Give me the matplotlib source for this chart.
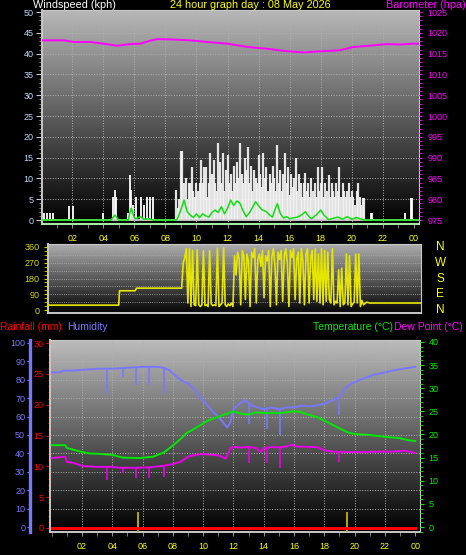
import numpy as np
import matplotlib
matplotlib.use("Agg")
import matplotlib.pyplot as plt
from matplotlib.ticker import MultipleLocator, FixedLocator
import matplotlib.transforms as mtransforms

plt.rcParams["font.family"] = ["Liberation Sans", "DejaVu Sans"]

W, H = 466, 555          # output size in pixels

# ─── barometer (hpa) ──────────────────────────────────────────────────────────
baro_hours = [0.1, 1.5, 2.1, 3.2, 4.2, 4.9, 5.7, 6.4, 7.0, 7.5, 8.5, 9.6, 10.7,
              12.0, 13.3, 14.5, 15.8, 16.9, 18.1, 19.2, 20.1, 21.4, 22.2, 23.1,
              23.9, 24.3]
baro_hpa = [1018.2, 1018.2, 1017.8, 1017.8, 1017.3, 1016.9, 1017.3, 1017.4,
            1018.1, 1018.5, 1018.4, 1018.2, 1017.8, 1017.4, 1016.6, 1016.2,
            1015.6, 1015.3, 1015.6, 1015.8, 1016.6, 1017.0, 1017.3, 1017.2,
            1017.4, 1017.4]

# ─── wind gusts (kph) ─────────────────────────────────────────────────────────
quiet_gust_hours = [0.2, 0.4, 0.6, 0.75, 1.8, 2.05, 3.98, 4.6, 4.75, 4.85, 5.6,
                    5.7, 5.8, 5.9, 6.1, 6.4, 6.6, 6.8, 7.0, 7.2, 21.2, 21.3,
                    23.4, 23.8, 23.9]
quiet_gust_kph = [1.8, 1.8, 1.8, 1.8, 3.4, 3.4, 1.8, 5.5, 7.2, 5.5, 1.8, 10.9,
                  7.2, 3.5, 5.5, 5.5, 3.6, 5.5, 5.5, 5.5, 1.8, 1.8, 1.8, 5.3, 5.3]
busy_start = 8.7          # 6-minute samples from here on
busy_gust_kph = [
    7.2, 3, 5, 16.5, 16.5, 9, 10, 5, 9, 9, 12.8, 7, 5.5, 9, 7, 9, 14.5, 9, 12.8,
    12.8, 5.5, 9, 16, 11, 14.5, 9, 7, 18.5, 14, 9, 16, 7, 12, 15.6, 9, 11, 7, 13,
    9, 14, 10, 18.5, 11, 9, 15, 12, 17.6, 9, 13, 7, 12, 10, 9, 15.6, 11, 8, 16,
    10, 12.8, 7, 11, 9, 13, 10, 7, 18, 9, 12, 7, 11, 16, 9, 12.8, 6, 11, 8, 10,
    15, 7, 11, 9, 5.5, 9, 11.3, 7, 9, 5.5, 10, 7, 9, 5.5, 12.8, 7, 9, 12.8, 5.5,
    9, 7, 10.9, 5.5, 9, 7, 5.5, 9, 7, 12.8, 5.5, 9, 7, 5.5, 7, 9, 5.5, 7, 5.5,
    3.6, 7, 9, 5.5, 3.6, 5.3, 5.3]

# ─── average wind (kph) ───────────────────────────────────────────────────────
avg_hours = [0.06, 4.5, 4.75, 5.0, 5.6, 5.8, 6.0, 6.1, 6.4, 6.6, 7.0, 7.2, 8.7,
             8.8, 9.0, 9.2, 9.4, 9.6, 9.8, 10.0, 10.2, 10.4, 10.6, 10.8, 11.0,
             11.2, 11.4, 11.6, 11.8, 12.0, 12.2, 12.4, 12.6, 12.8, 13.0, 13.2,
             13.4, 13.6, 13.8, 14.0, 14.2, 14.5, 14.7, 14.9, 15.0, 15.2, 15.4,
             15.6, 15.8, 16.0, 16.2, 16.5, 16.8, 17.0, 17.2, 17.4, 17.7, 18.0,
             18.2, 18.5, 18.8, 19.1, 19.4, 19.7, 20.0, 20.3, 20.6, 20.8, 24.3]
avg_kph = [0, 0, 1.2, 0, 0, 2.9, 0.5, 0.3, 0.8, 0.2, 0.3, 0, 0, 0.5, 2.5, 4.8,
           2.0, 1.2, 0.6, 1.5, 0.6, 1.5, 1.0, 0.7, 1.8, 2.4, 1.8, 3.2, 1.5, 2.8,
           4.8, 3.5, 4.6, 4.0, 2.2, 0.8, 1.7, 3.0, 4.4, 3.4, 2.5, 2.0, 1.2, 0.7,
           2.0, 3.9, 1.5, 0.5, 0.8, 0.3, 0.5, 0.7, 1.3, 2.0, 1.0, 0.3, 1.2, 2.4,
           1.2, 0.1, 0.4, 0.7, 0.2, 0.8, 0.2, 0.6, 0.2, 0, 0]

# ─── wind direction (deg) ─────────────────────────────────────────────────────
calm_dir_hours = [0.05, 4.55, 4.6, 5.6, 5.7, 8.6]
calm_dir_deg = [28, 28, 110, 110, 125, 125]
busy_dir_deg = [
    270, 300, 350, 40, 350, 20, 340, 30, 25, 345, 30, 20, 30, 340, 25, 30, 20,
    340, 35, 25, 30, 25, 355, 20, 30, 40, 355, 30, 20, 35, 25, 40, 20, 310, 200,
    330, 290, 30, 340, 310, 60, 320, 280, 20, 330, 300, 350, 40, 290, 320, 250,
    340, 70, 310, 280, 340, 20, 300, 350, 260, 30, 330, 290, 340, 50, 310, 350,
    270, 20, 340, 300, 350, 60, 290, 330, 40, 350, 280, 30, 320, 350, 40, 300,
    340, 60, 350, 50, 320, 40, 350, 30, 340, 50, 330, 60, 40, 350, 30, 50, 40,
    230, 20, 240, 30, 40, 320, 30, 310, 20, 35, 45, 320, 40, 320, 20, 55, 30]
tail_dir_hours = [20.5, 20.7, 24.0]
tail_dir_deg = [45, 40, 40]

# ─── temperature / dew point (°C), humidity (%) ──────────────────────────────
temp_hours = [0, 0.9, 1.0, 1.9, 2.5, 3.2, 4.0, 4.7, 5.8, 6.7, 7.4, 8.0, 8.5, 8.9,
              9.3, 9.8, 10.3, 10.8, 11.4, 12.0, 12.5, 13.0, 13.5, 14.0, 14.5,
              15.0, 15.5, 16.0, 16.4, 17.0, 17.5, 18.0, 18.6, 19.2, 19.6, 20.0,
              21.0, 22.0, 23.0, 23.5, 24.0]
temp_c = [17.7, 17.7, 17.1, 16.3, 15.9, 15.8, 15.6, 15.0, 14.9, 15.2, 16.1,
          17.6, 19.0, 20.3, 21.0, 22.0, 23.0, 23.6, 24.3, 25.0, 24.5, 24.3,
          24.8, 24.6, 24.7, 24.6, 24.8, 25.0, 24.9, 24.2, 23.8, 23.0, 22.0,
          21.0, 20.4, 20.1, 19.9, 19.5, 19.2, 18.8, 18.6]

dew_hours = [0, 0.9, 1.0, 1.5, 2.0, 3.0, 4.0, 4.5, 5.5, 6.5, 7.5, 8.0, 8.5, 9.0,
             9.5, 10.0, 10.5, 11.0, 11.5, 11.8, 12.0, 12.5, 13.0, 13.5, 13.8,
             14.0, 14.5, 15.0, 15.5, 15.8, 16.2, 17.0, 17.5, 18.0, 18.5, 19.5,
             20.5, 21.5, 22.5, 23.3, 24.0]
dew_c = [14.9, 15.2, 14.1, 13.8, 13.2, 13.0, 13.0, 12.8, 12.8, 12.9, 13.3, 13.6,
         14.1, 15.2, 15.6, 15.8, 15.6, 15.5, 14.8, 17.0, 17.3, 17.2, 17.3, 17.1,
         16.2, 17.0, 17.3, 17.2, 17.4, 17.8, 17.4, 17.3, 17.3, 16.6, 16.3, 16.2,
         16.2, 16.3, 16.3, 16.5, 16.0]

hum_hours = [0, 0.5, 0.8, 1.5, 2.2, 3.0, 4.0, 5.0, 6.0, 7.0, 7.4, 7.8, 8.2, 8.6,
             9.0, 9.4, 9.8, 10.2, 10.6, 11.0, 11.3, 11.6, 11.8, 12.0, 12.4,
             12.8, 13.2, 13.6, 14.0, 14.5, 15.0, 15.5, 16.0, 16.5, 17.0, 17.5,
             18.0, 18.6, 19.0, 19.4, 19.8, 20.4, 21.2, 22.0, 22.5, 23.2, 24.0]
hum_pct = [84, 84, 85, 85, 85.5, 86, 86, 86.5, 87, 87, 86.5, 85, 82, 79.5, 78,
           75, 70.5, 67, 63, 60, 57, 54, 57, 64, 67, 69, 66, 65, 64, 65, 64, 65,
           65, 66, 65.5, 66, 67, 69, 71, 75.5, 78, 80, 82.5, 84, 85, 86, 87]

# short sensor drop-outs (same instants for humidity and dew point)
dip_hours = [3.65, 4.7, 5.6, 6.4, 7.4, 13.0, 14.2, 15.1, 19.0]
dip_hum = [72, 81.5, 77, 77, 72, 56, 53, 50, 61]
dip_dew = [10.2, 11.7, 10.6, 10.6, 10.8, 13.8, 13.8, 12.8, 14.0]

rain_hours = [0, 24]
rain_mm = [0, 0]
tip_hours = [5.7, 19.5]
tip_mm = [2.6, 2.6]

hour_ticks = list(range(2, 25, 2))
hour_labels = [f"{h % 24:02d}" for h in hour_ticks]

# ─── colours ──────────────────────────────────────────────────────────────────
YELLOW = "#ffff00"
MAGENTA = "#ff00ff"
GREEN = "#00ee00"
HUMID = "#7878ff"
RED = "#ff0000"
FRAME = "#c8c8c8"
GRID = "#b0b0b0"
FS = 6.5
TFS = 7.5


def shade(ax, top, bottom):
    grad = np.linspace(bottom, top, 256).reshape(-1, 1)
    ax.imshow(grad, extent=[0, 1, 0, 1], transform=ax.transAxes,
              origin="lower", cmap="gray", vmin=0, vmax=1,
              aspect="auto", zorder=0, interpolation="bilinear")


def frame(ax, bottom_colour=FRAME):
    for side, sp in ax.spines.items():
        sp.set_color(FRAME)
        sp.set_linewidth(1.4)
    ax.spines["bottom"].set_color(bottom_colour)
    ax.spines["top"].set_linewidth(0.8)
    ax.spines["right"].set_linewidth(0.8)


def px(x, y):
    return x / W, 1 - y / H


fig = plt.figure(figsize=(W / 100, H / 100), dpi=100, facecolor="black")

# ─── top panel : wind + barometer ────────────────────────────────────────────
ax_w = fig.add_axes([42 / W, 1 - 224 / H, 377 / W, 214 / H])
shade(ax_w, 0.72, 0.0)
ax_w.set_xlim(0.06, 24.32)
ax_w.set_ylim(-0.96, 50.5)
frame(ax_w, bottom_colour="#a8f0a8")

for h in hour_ticks[:-1]:
    ax_w.axvline(h, color=GRID, ls=":", lw=0.7, zorder=1)
for v in range(5, 50, 5):
    ax_w.axhline(v, color=GRID, ls=":", lw=0.7, zorder=1)

busy_gust_hours = busy_start + 0.1 * np.arange(len(busy_gust_kph))
ax_w.vlines(quiet_gust_hours, 0, quiet_gust_kph, colors="white", lw=1.3, zorder=3)
ax_w.vlines(busy_gust_hours, 0, busy_gust_kph, colors="#f4f4f4", lw=1.6,
            alpha=0.92, zorder=3)
ax_w.axhline(0, color="#d0d0d0", lw=1.3, zorder=4)
ax_w.plot(avg_hours, avg_kph, color="#10e010", lw=1.1, zorder=5)

ax_w.xaxis.set_major_locator(FixedLocator(hour_ticks))
ax_w.set_xticklabels(hour_labels)
ax_w.xaxis.set_minor_locator(MultipleLocator(1))
ax_w.yaxis.set_major_locator(MultipleLocator(5))
ax_w.yaxis.set_minor_locator(MultipleLocator(1))
ax_w.tick_params(axis="x", which="both", colors="#909090", labelcolor=YELLOW,
                 labelsize=FS, length=3, pad=4)
ax_w.tick_params(axis="y", which="major", colors=FRAME, labelcolor="#b8dcff",
                 labelsize=FS, length=4, pad=2)
ax_w.tick_params(axis="y", which="minor", colors="#909090", length=2)

ax_p = ax_w.twinx()
ax_p.set_ylim(975 - 0.96, 1025.5)
ax_p.plot(baro_hours, baro_hpa, color=MAGENTA, lw=1.4, zorder=5)
ax_p.yaxis.set_major_locator(MultipleLocator(5))
ax_p.yaxis.set_minor_locator(MultipleLocator(1))
ax_p.tick_params(axis="y", which="both", colors=MAGENTA, labelcolor=MAGENTA,
                 labelsize=FS, length=2, pad=4)
for sp in ax_p.spines.values():
    sp.set_visible(False)

fig.text(*px(33, 8), "Windspeed (kph)", color="white", fontsize=TFS + 0.3,
         va="baseline")
fig.text(*px(250, 8), "24 hour graph day : 08 May 2026", color=YELLOW,
         fontsize=TFS + 0.3, va="baseline", ha="center")
fig.text(*px(466, 8), "Barometer (hpa)", color=MAGENTA, fontsize=TFS + 0.3,
         va="baseline", ha="right")

# ─── middle panel : wind direction ───────────────────────────────────────────
ax_d = fig.add_axes([48 / W, 1 - 313 / H, 373 / W, 69 / H])
shade(ax_d, 0.68, 0.02)
ax_d.set_xlim(0, 24)
ax_d.set_ylim(-17, 377)
frame(ax_d)
for v in (45, 90, 135, 180, 225, 270, 315):
    ax_d.axhline(v, color=GRID, ls=":", lw=0.6, zorder=1)

busy_dir_hours = busy_start + 0.1 * np.arange(len(busy_dir_deg))
dir_hours = list(calm_dir_hours) + list(busy_dir_hours) + tail_dir_hours
dir_deg = calm_dir_deg + busy_dir_deg + tail_dir_deg
ax_d.plot(dir_hours, dir_deg, color="#e6e600", lw=1.2, zorder=3)

ax_d.set_xticks([])
ax_d.yaxis.set_major_locator(FixedLocator([0, 90, 180, 270, 360]))
ax_d.yaxis.set_minor_locator(MultipleLocator(22.5))
ax_d.tick_params(axis="y", which="both", colors="#d8d800", labelcolor="#d8d800",
                 labelsize=FS, length=3, pad=3)

blend = mtransforms.blended_transform_factory(ax_d.transAxes, ax_d.transData)
for deg, letter in zip([360, 270, 180, 90, 0], ["N", "W", "S", "E", "N"]):
    ax_d.text(1.051, deg, letter, transform=blend, color=YELLOW, fontsize=8.5,
              ha="center", va="center")

# ─── bottom panel : rain, humidity, temperature, dew point ───────────────────
ax_r = fig.add_axes([50 / W, 1 - 532 / H, 370 / W, 192 / H])
shade(ax_r, 0.74, 0.0)
ax_r.set_xlim(-0.11, 24.32)
ax_r.set_ylim(-0.65, 30.5)
frame(ax_r)

for h in hour_ticks[:-1]:
    ax_r.axvline(h, color=GRID, ls=":", lw=0.7, zorder=1)

ax_h = ax_r.twinx()
ax_h.set_ylim(-2.7, 101.6)
for v in range(10, 100, 10):
    ax_h.axhline(v, color=GRID, ls=":", lw=0.7, zorder=1)

ax_t = ax_r.twinx()
ax_t.set_ylim(-1.08, 40.43)

ax_r.plot(rain_hours, rain_mm, color=RED, lw=2.2, zorder=4)
ax_r.vlines(tip_hours, -0.65, tip_mm, colors="#b8a800", lw=1.4, zorder=3)

hum_base = np.interp(dip_hours, hum_hours, hum_pct)
ax_h.plot(hum_hours, hum_pct, color=HUMID, lw=1.4, zorder=3)
ax_h.vlines(dip_hours, dip_hum, hum_base, colors=HUMID, lw=1.2, zorder=3)

dew_base = np.interp(dip_hours, dew_hours, dew_c)
ax_t.plot(temp_hours, temp_c, color="#00e800", lw=1.4, zorder=4)
ax_t.plot(dew_hours, dew_c, color="#e800e8", lw=1.4, zorder=4)
ax_t.vlines(dip_hours, dip_dew, dew_base, colors="#e800e8", lw=1.2, zorder=4)

ax_r.xaxis.set_major_locator(FixedLocator(hour_ticks))
ax_r.set_xticklabels(hour_labels)
ax_r.xaxis.set_minor_locator(MultipleLocator(1))
ax_r.tick_params(axis="x", which="both", colors="#909090", labelcolor=YELLOW,
                 labelsize=FS, length=3, pad=4)
ax_r.yaxis.set_major_locator(MultipleLocator(5))
ax_r.yaxis.set_minor_locator(MultipleLocator(1))
ax_r.tick_params(axis="y", which="major", colors=RED, labelcolor=RED,
                 labelsize=FS, length=3, pad=1.5)
ax_r.tick_params(axis="y", which="minor", colors=RED, length=1.5)

ax_h.yaxis.set_ticks_position("left")
ax_h.yaxis.set_label_position("left")
for side, sp in ax_h.spines.items():
    sp.set_visible(False)
ax_h.spines["left"].set_visible(True)
ax_h.spines["left"].set_position(("axes", (30 - 50) / 370))
ax_h.spines["left"].set_color(HUMID)
ax_h.spines["left"].set_linewidth(2.4)
ax_h.yaxis.set_major_locator(MultipleLocator(10))
ax_h.tick_params(axis="y", colors=HUMID, labelcolor=HUMID, labelsize=FS,
                 length=2.5, pad=1)

for sp in ax_t.spines.values():
    sp.set_visible(False)
ax_t.yaxis.set_major_locator(MultipleLocator(5))
ax_t.yaxis.set_minor_locator(MultipleLocator(1))
ax_t.tick_params(axis="y", which="major", colors=GREEN, labelcolor=GREEN,
                 labelsize=FS, length=3, pad=3)
ax_t.tick_params(axis="y", which="minor", colors=GREEN, length=2)

fig.text(*px(0, 327), "Rainfall (mm)", color=RED, fontsize=TFS, va="center")
fig.text(*px(67, 327), "Humidity", color=HUMID, fontsize=TFS, va="center")
fig.text(*px(313, 327), "Temperature (°C)", color=GREEN, fontsize=TFS, va="center")
fig.text(*px(394, 327), "Dew Point (°C)", color=MAGENTA, fontsize=TFS, va="center")

fig.savefig("out.png", dpi=100, facecolor="black")
